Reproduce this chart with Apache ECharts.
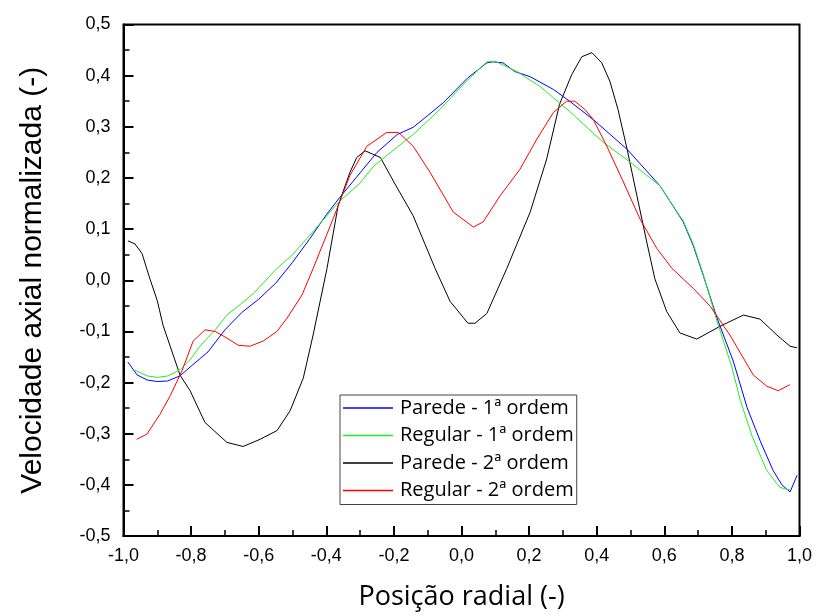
<!DOCTYPE html>
<html><head><meta charset="utf-8">
<script src="https://cdn.jsdelivr.net/npm/echarts@6/dist/echarts.min.js"></script>
<style>html,body{margin:0;padding:0;background:#fff}#c{width:817px;height:616px}</style>
</head><body><div id="c"></div>
<script>
const seriesNames = ["Parede - 1ª ordem", "Regular - 1ª ordem", "Parede - 2ª ordem", "Regular - 2ª ordem"];
const xTicks = [-1.0, -0.8, -0.6, -0.4, -0.2, 0.0, 0.2, 0.4, 0.6, 0.8, 1.0];

const xParede1 = [-0.987,-0.96,-0.93,-0.9,-0.87,-0.833,-0.8,-0.75,-0.7,-0.65,-0.6,-0.55,-0.5,-0.45,-0.4,-0.36,-0.3,-0.25,-0.19,-0.143,-0.1,-0.054,0.019,0.075,0.093,0.123,0.158,0.203,0.272,0.32,0.39,0.49,0.588,0.626,0.656,0.686,0.715,0.756,0.804,0.845,0.883,0.922,0.948,0.972,0.993];
const yParede1 = [-0.16,-0.185,-0.195,-0.198,-0.197,-0.187,-0.168,-0.14,-0.097,-0.063,-0.037,-0.006,0.035,0.08,0.128,0.162,0.21,0.25,0.285,0.299,0.322,0.347,0.396,0.425,0.427,0.425,0.408,0.398,0.373,0.35,0.314,0.256,0.184,0.145,0.114,0.067,0.01,-0.074,-0.158,-0.249,-0.313,-0.372,-0.4,-0.414,-0.381];

const xRegular1 = [-0.966,-0.93,-0.9,-0.868,-0.833,-0.8,-0.774,-0.73,-0.694,-0.65,-0.616,-0.546,-0.5,-0.458,-0.4,-0.36,-0.3,-0.26,-0.2,-0.143,-0.064,0.019,0.075,0.1,0.164,0.232,0.32,0.419,0.499,0.588,0.626,0.656,0.686,0.715,0.756,0.8,0.825,0.86,0.903,0.942,0.972];
const yRegular1 = [-0.176,-0.187,-0.19,-0.187,-0.175,-0.153,-0.129,-0.098,-0.068,-0.045,-0.026,0.023,0.05,0.081,0.125,0.155,0.19,0.223,0.255,0.285,0.334,0.392,0.427,0.428,0.408,0.379,0.33,0.27,0.231,0.184,0.145,0.116,0.07,0.012,-0.08,-0.17,-0.235,-0.305,-0.372,-0.405,-0.41];

const xParede2 = [-0.987,-0.966,-0.945,-0.922,-0.9,-0.883,-0.833,-0.803,-0.759,-0.694,-0.646,-0.596,-0.546,-0.507,-0.468,-0.439,-0.398,-0.365,-0.33,-0.31,-0.285,-0.24,-0.2,-0.143,-0.078,-0.034,0.019,0.04,0.075,0.134,0.203,0.252,0.29,0.326,0.356,0.386,0.415,0.439,0.463,0.49,0.519,0.548,0.572,0.607,0.646,0.696,0.765,0.834,0.883,0.933,0.972,0.993];
const yParede2 = [0.077,0.071,0.052,0.003,-0.04,-0.088,-0.185,-0.216,-0.278,-0.317,-0.325,-0.311,-0.294,-0.255,-0.191,-0.107,0.023,0.146,0.211,0.24,0.253,0.24,0.192,0.126,0.023,-0.041,-0.084,-0.084,-0.065,0.023,0.133,0.237,0.344,0.402,0.437,0.445,0.425,0.389,0.334,0.256,0.165,0.075,0.003,-0.061,-0.103,-0.115,-0.09,-0.068,-0.076,-0.107,-0.129,-0.132];

const xRegular2 = [-0.961,-0.931,-0.892,-0.862,-0.827,-0.794,-0.759,-0.729,-0.694,-0.661,-0.626,-0.587,-0.546,-0.516,-0.472,-0.439,-0.38,-0.33,-0.28,-0.221,-0.186,-0.143,-0.093,-0.024,0.035,0.064,0.114,0.173,0.223,0.272,0.311,0.335,0.365,0.39,0.43,0.479,0.528,0.578,0.623,0.686,0.736,0.794,0.863,0.903,0.937,0.972];
const yRegular2 = [-0.311,-0.301,-0.262,-0.226,-0.177,-0.119,-0.097,-0.1,-0.113,-0.127,-0.129,-0.119,-0.1,-0.074,-0.029,0.023,0.12,0.205,0.262,0.289,0.289,0.262,0.211,0.133,0.104,0.114,0.165,0.217,0.276,0.328,0.35,0.35,0.334,0.314,0.262,0.192,0.12,0.062,0.023,-0.016,-0.051,-0.107,-0.185,-0.207,-0.216,-0.204];

const colors = ["#0000ff", "#22ee22", "#000000", "#ff0000"];
const xs = [xParede1, xRegular1, xParede2, xRegular2];
const ys = [yParede1, yRegular1, yParede2, yRegular2];

const fmt = v => v.toFixed(1).replace('.', ',').replace('-0,0', '0,0');

const chart = echarts.init(document.getElementById('c'), null, {renderer: 'canvas'});
const axisCommon = {
  axisLine: {show: true, onZero: false, lineStyle: {color: '#000', width: 2}},
  axisTick: {show: true, inside: true, length: 10, lineStyle: {color: '#000', width: 2}},
  minorTick: {show: true, splitNumber: 2, length: 6, lineStyle: {color: '#000', width: 1.5}},
  splitLine: {show: false},
};
chart.setOption({
  animation: false,
  backgroundColor: '#fff',
  grid: {left: 123.5, right: 17.5, top: 24.5, bottom: 77, show: true, borderColor: '#000', borderWidth: 2, containLabel: false},
  legend: {
    orient: 'vertical', left: 340, top: 395,
    data: seriesNames,
    itemWidth: 50, itemHeight: 20, itemGap: 7.5,
    icon: 'path://M0,9.2 L50,9.2 L50,10.8 L0,10.8 Z',
    backgroundColor: '#fff', borderColor: '#444', borderWidth: 1,
    padding: [3, 3, 4, 3],
    textStyle: {fontFamily: 'Open Sans', fontSize: 20, lineHeight: 20, color: '#000', padding: [0, 0, 0, 2]}
  },
  xAxis: Object.assign({
    type: 'value', min: -1, max: 1, interval: 0.2,
    name: 'Posição radial (-)', nameLocation: 'middle', nameGap: 48,
    nameTextStyle: {fontFamily: 'Open Sans', fontSize: 27, color: '#000'},
    axisLabel: {formatter: fmt, fontFamily: 'Liberation Sans', fontSize: 18, color: '#000', margin: 11}
  }, axisCommon),
  yAxis: Object.assign({
    type: 'value', min: -0.5, max: 0.5, interval: 0.1,
    name: 'Velocidade axial normalizada (-)', nameLocation: 'middle', nameGap: 76,
    nameTextStyle: {fontFamily: 'Liberation Sans', fontSize: 30, color: '#000'},
    axisLabel: {formatter: fmt, fontFamily: 'Liberation Sans', fontSize: 18, color: '#000', margin: 13}
  }, axisCommon),
  series: seriesNames.map((n, i) => ({
    name: n, type: 'line', showSymbol: false, symbol: 'none',
    data: xs[i].map((x, j) => [x, ys[i][j]]),
    lineStyle: {color: colors[i], width: 1},
    itemStyle: {color: colors[i]},
    z: i === 2 ? 1 : 2
  }))
});
</script></body></html>
